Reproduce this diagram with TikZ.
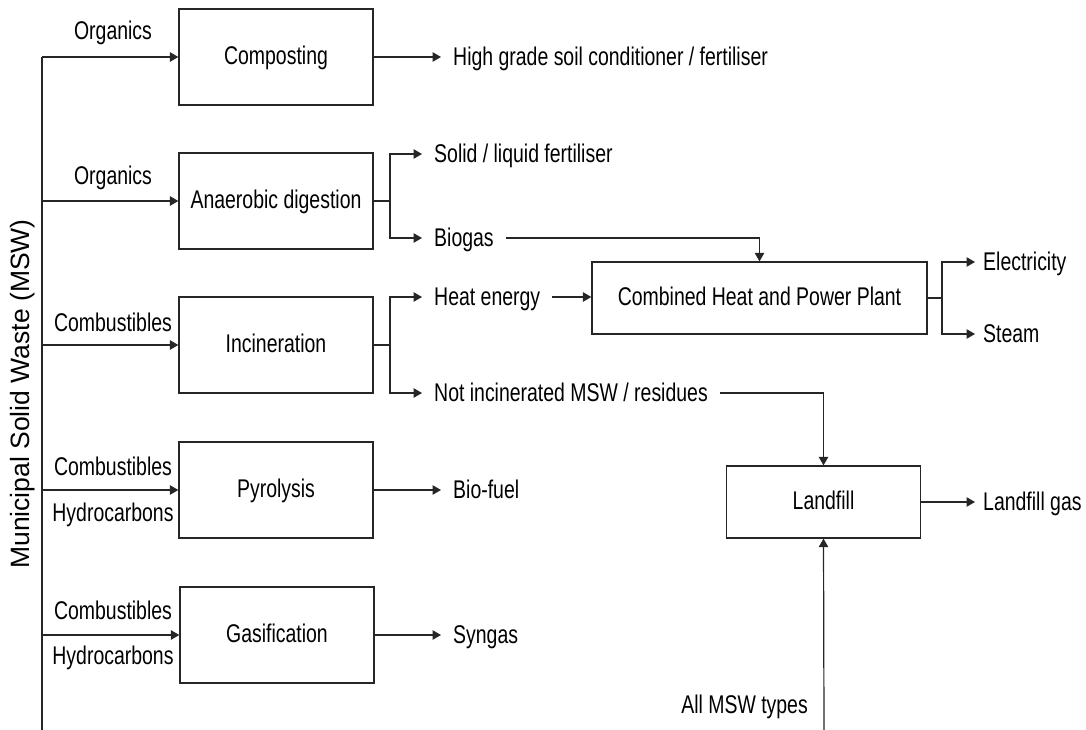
\documentclass[tikz,border=0pt]{standalone}
\usepackage{fontspec}
\setmainfont{Liberation Sans}[FakeStretch=0.76]
\newfontfamily\mswfont{Liberation Sans}
\usetikzlibrary{arrows.meta}
\begin{document}
\begin{tikzpicture}[x=1pt,y=-1pt,
  every node/.style={font=\fontsize{25.6}{29}\selectfont},
  proc/.style={draw=black!85,line width=1.3pt,minimum width=194pt,minimum height=96pt,inner sep=0pt,text height=18.5pt,text depth=3pt},
  outtxt/.style={anchor=west,inner xsep=12pt,inner ysep=0pt,text height=18.5pt,text depth=2pt},
  intxt/.style={inner sep=0pt},
  ln/.style={draw=black!85,line width=1.2pt},
  arr/.style={ln,-{Triangle[length=8.5pt,width=9.5pt]}}]
\useasboundingbox (0,0) rectangle (1086,730);

% MSW trunk
\coordinate (t1) at (42,57);
\coordinate (t2) at (42,201);
\coordinate (t3) at (42,345);
\coordinate (t4) at (42,490);
\coordinate (t5) at (42,635);
\coordinate (tb) at (42,730);
\draw[ln] (t1) -- (tb);
\node[rotate=90,font=\mswfont\fontsize{26.5}{30}\selectfont] (msw) at (23,394) {Municipal Solid Waste (MSW)};

% process boxes
\node[proc] (comp) at (276,57) {Composting};
\node[proc] (ad) at (276,201) {Anaerobic digestion};
\node[proc] (inc) at (276,345) {Incineration};
\node[proc] (pyr) at (276,490) {Pyrolysis};
\node[proc] (gas) at (277,635) {Gasification};
\node[proc,minimum width=335pt,minimum height=72pt] (chp) at (759.5,298) {Combined Heat and Power Plant};
\node[proc,minimum height=72pt] (land) at (823.5,502) {Landfill};

% input labels
\node[intxt] (l1) at (113,32.5) {Organics};
\node[intxt] (l2) at (113,177.5) {Organics};
\node[intxt] (l3) at (113,322) {Combustibles};
\node[intxt] (l4a) at (113,466) {Combustibles};
\node[intxt] (l4b) at (113,515) {Hydrocarbons};
\node[intxt] (l5a) at (113,610) {Combustibles};
\node[intxt] (l5b) at (113,658) {Hydrocarbons};

\draw[arr] (t1) -- (comp.west);
\draw[arr] (t2) -- (ad.west);
\draw[arr] (t3) -- (inc.west);
\draw[arr] (t4) -- (pyr.west);
\draw[arr] (t5) -- (gas.west);

% outputs
\node[outtxt] (hg) at (441,57) {High grade soil conditioner / fertiliser};
\draw[arr] (comp.east) -- (hg.west);

\coordinate (adj) at (390,201);
\node[outtxt] (sol) at (422,154) {Solid / liquid fertiliser};
\node[outtxt] (bio) at (422,238) {Biogas};
\draw[ln] (ad.east) -- (adj);
\draw[arr] (adj) |- (sol.west);
\draw[arr] (adj) |- (bio.west);
\draw[arr] (bio.east) -| (chp.north);

\coordinate (incj) at (390,345);
\node[outtxt] (heat) at (422,297) {Heat energy};
\node[outtxt] (res) at (422,393) {Not incinerated MSW / residues};
\draw[ln] (inc.east) -- (incj);
\draw[arr] (incj) |- (heat.west);
\draw[arr] (incj) |- (res.west);
\draw[arr] (heat.east) -- (heat.east -| chp.west);
\draw[arr] (res.east) -| (land.north);

\coordinate (chpj) at (942,298);
\node[outtxt,inner xsep=8pt] (elec) at (975,262) {Electricity};
\node[outtxt,inner xsep=8pt] (steam) at (975,334) {Steam};
\draw[ln] (chp.east) -- (chpj);
\draw[arr] (chpj) |- (elec.west);
\draw[arr] (chpj) |- (steam.west);

\node[outtxt,inner xsep=8pt] (lgas) at (975,502) {Landfill gas};
\draw[arr] (land.east) -- (lgas.west);

\coordinate (lb) at (824,730);
\node[intxt,anchor=east] (all) at (808,707) {All MSW types};
\draw[arr] (lb) -- (land.south);

\node[outtxt] (bf) at (441,490) {Bio-fuel};
\draw[arr] (pyr.east) -- (bf.west);
\node[outtxt] (sg) at (441,635) {Syngas};
\draw[arr] (gas.east) -- (sg.west);
\end{tikzpicture}
\end{document}
